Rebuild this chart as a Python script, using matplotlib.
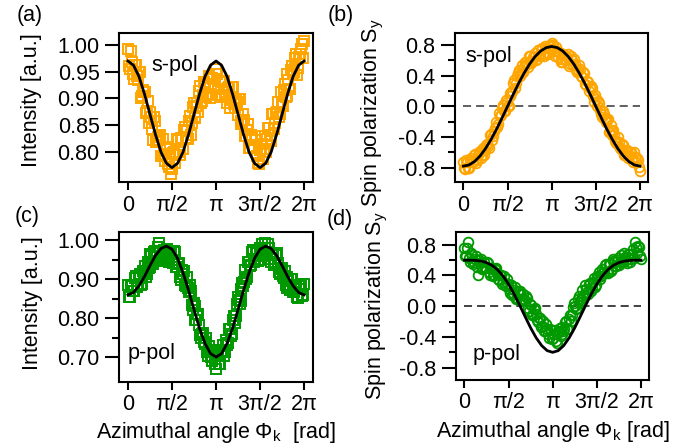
import numpy as np
import matplotlib
matplotlib.use("Agg")
import matplotlib.pyplot as plt

plt.rcParams['font.family'] = ['Liberation Sans', 'DejaVu Sans']
plt.rcParams['mathtext.fontset'] = 'custom'
plt.rcParams['mathtext.rm'] = 'Liberation Sans'
plt.rcParams['mathtext.it'] = 'Liberation Sans:italic'
plt.rcParams['mathtext.bf'] = 'Liberation Sans:bold'
plt.rcParams['lines.scale_dashes'] = False

# measured azimuthal angles (deg), sweep 1 and sweep 2
angles = [0, 4, 8, 12, 16, 20, 24, 28, 32, 36, 40, 44, 48, 52, 56, 60, 64, 68, 72, 76,
          80, 84, 88, 92, 96, 100, 104, 108, 112, 116, 120, 124, 128, 132, 136, 140, 144,
          148, 152, 156, 160, 164, 168, 172, 176, 180, 184, 188, 192, 196, 200, 204, 208,
          212, 216, 220, 224, 228, 232, 236, 240, 244, 248, 252, 256, 260, 264, 268, 272,
          276, 280, 284, 288, 292, 296, 300, 304, 308, 312, 316, 320, 324, 328, 332, 336,
          340, 344, 348, 352, 356, 360]
angles2 = [2, 6, 10, 14, 18, 22, 26, 30, 34, 38, 42, 46, 50, 54, 58, 62, 66, 70, 74, 78,
           82, 86, 90, 94, 98, 102, 106, 110, 114, 118, 122, 126, 130, 134, 138, 142, 146,
           150, 154, 158, 162, 166, 170, 174, 178, 182, 186, 190, 194, 198, 202, 206, 210,
           214, 218, 222, 226, 230, 234, 238, 242, 246, 250, 254, 258, 262, 266, 270, 274,
           278, 282, 286, 290, 294, 298, 302, 306, 310, 314, 318, 322, 326, 330, 334, 338,
           342, 346, 350, 354, 358]

# (a) intensity, s-pol
int_s = [0.993, 0.955, 0.969, 0.936, 0.962, 0.934, 0.949, 0.904, 0.911, 0.873, 0.895,
         0.864, 0.865, 0.821, 0.857, 0.820, 0.821, 0.792, 0.823, 0.783, 0.808, 0.771,
         0.758, 0.798, 0.779, 0.823, 0.799, 0.825, 0.804, 0.847, 0.838, 0.858, 0.832,
         0.883, 0.865, 0.885, 0.875, 0.923, 0.895, 0.930, 0.902, 0.924, 0.901, 0.938,
         0.922, 0.955, 0.917, 0.933, 0.903, 0.933, 0.912, 0.920, 0.882, 0.921, 0.890,
         0.896, 0.869, 0.898, 0.852, 0.871, 0.830, 0.840, 0.806, 0.832, 0.808, 0.829,
         0.791, 0.777, 0.805, 0.786, 0.830, 0.823, 0.844, 0.819, 0.871, 0.854, 0.875,
         0.864, 0.911, 0.886, 0.927, 0.905, 0.934, 0.918, 0.960, 0.949, 0.983, 0.957,
         0.983, 1.002, 1.008]
int_s2 = [0.961, 0.988, 0.945, 0.963, 0.941, 0.950, 0.901, 0.915, 0.911, 0.876, 0.853,
          0.875, 0.843, 0.864, 0.818, 0.828, 0.831, 0.791, 0.795, 0.804, 0.776, 0.805,
          0.768, 0.799, 0.794, 0.822, 0.793, 0.826, 0.841, 0.826, 0.824, 0.866, 0.853,
          0.891, 0.863, 0.892, 0.914, 0.891, 0.907, 0.926, 0.907, 0.942, 0.908, 0.936,
          0.925, 0.945, 0.906, 0.930, 0.933, 0.906, 0.892, 0.922, 0.897, 0.922, 0.881,
          0.894, 0.898, 0.857, 0.856, 0.860, 0.829, 0.852, 0.807, 0.826, 0.807, 0.821,
          0.779, 0.803, 0.814, 0.800, 0.800, 0.844, 0.832, 0.870, 0.842, 0.872, 0.894,
          0.871, 0.890, 0.915, 0.903, 0.945, 0.918, 0.953, 0.948, 0.975, 0.944, 0.978,
          0.992, 0.976]

# (b) spin polarization, s-pol
spin_s = [-0.72, -0.82, -0.73, -0.81, -0.68, -0.72, -0.62, -0.70, -0.61, -0.67, -0.54,
          -0.57, -0.49, -0.54, -0.36, -0.39, -0.28, -0.27, -0.09, -0.11, 0.02, -0.06,
          0.05, 0.00, 0.18, 0.20, 0.34, 0.30, 0.43, 0.39, 0.54, 0.51, 0.58, 0.51, 0.66,
          0.59, 0.64, 0.60, 0.74, 0.65, 0.76, 0.66, 0.76, 0.68, 0.80, 0.83, 0.72, 0.77,
          0.64, 0.69, 0.58, 0.68, 0.61, 0.64, 0.53, 0.66, 0.54, 0.55, 0.45, 0.54, 0.40,
          0.45, 0.29, 0.33, 0.20, 0.26, 0.13, 0.15, 0.00, 0.04, -0.10, -0.06, -0.17,
          -0.18, -0.33, -0.25, -0.38, -0.38, -0.48, -0.40, -0.54, -0.49, -0.63, -0.57,
          -0.68, -0.59, -0.67, -0.60, -0.73, -0.70, -0.84]
spin_s2 = [-0.80, -0.70, -0.80, -0.70, -0.72, -0.64, -0.74, -0.63, -0.58, -0.63, -0.64,
           -0.50, -0.52, -0.38, -0.44, -0.32, -0.20, -0.23, -0.13, -0.02, -0.06, 0.08,
           0.00, 0.14, 0.17, 0.30, 0.24, 0.39, 0.47, 0.44, 0.45, 0.58, 0.55, 0.66, 0.56,
           0.64, 0.70, 0.62, 0.67, 0.73, 0.68, 0.79, 0.70, 0.79, 0.75, 0.80, 0.66, 0.72,
           0.71, 0.62, 0.58, 0.67, 0.60, 0.68, 0.55, 0.60, 0.62, 0.48, 0.48, 0.49, 0.38,
           0.44, 0.28, 0.32, 0.24, 0.24, 0.05, 0.09, 0.07, -0.05, -0.14, -0.10, -0.21,
           -0.17, -0.34, -0.32, -0.31, -0.45, -0.46, -0.46, -0.56, -0.50, -0.63, -0.57,
           -0.63, -0.59, -0.73, -0.66, -0.67, -0.79]

# (c) intensity, p-pol
int_p = [0.885, 0.854, 0.882, 0.870, 0.908, 0.886, 0.913, 0.887, 0.918, 0.906, 0.945,
         0.932, 0.961, 0.939, 0.973, 0.958, 0.992, 0.952, 0.967, 0.955, 0.978, 0.944,
         0.966, 0.943, 0.970, 0.931, 0.941, 0.899, 0.914, 0.886, 0.905, 0.868, 0.870,
         0.821, 0.831, 0.795, 0.810, 0.756, 0.760, 0.738, 0.748, 0.704, 0.718, 0.691,
         0.717, 0.670, 0.709, 0.682, 0.714, 0.704, 0.745, 0.737, 0.773, 0.759, 0.805,
         0.805, 0.855, 0.836, 0.874, 0.883, 0.923, 0.907, 0.944, 0.936, 0.975, 0.951,
         0.976, 0.949, 0.978, 0.961, 0.992, 0.967, 0.981, 0.944, 0.966, 0.943, 0.967,
         0.919, 0.927, 0.908, 0.920, 0.878, 0.895, 0.872, 0.900, 0.868, 0.886, 0.852,
         0.876, 0.857, 0.887]
int_p2 = [0.855, 0.886, 0.871, 0.904, 0.879, 0.904, 0.885, 0.920, 0.933, 0.913, 0.929,
          0.964, 0.938, 0.969, 0.948, 0.982, 0.972, 0.950, 0.974, 0.957, 0.947, 0.973,
          0.950, 0.972, 0.932, 0.940, 0.905, 0.924, 0.921, 0.883, 0.877, 0.886, 0.834,
          0.839, 0.795, 0.810, 0.783, 0.748, 0.762, 0.733, 0.712, 0.729, 0.700, 0.719,
          0.683, 0.702, 0.681, 0.716, 0.730, 0.712, 0.731, 0.772, 0.754, 0.795, 0.787,
          0.837, 0.846, 0.845, 0.891, 0.893, 0.901, 0.944, 0.935, 0.971, 0.945, 0.968,
          0.948, 0.981, 0.991, 0.964, 0.970, 0.991, 0.951, 0.968, 0.937, 0.962, 0.943,
          0.913, 0.930, 0.904, 0.885, 0.905, 0.879, 0.901, 0.866, 0.881, 0.854, 0.882,
          0.888, 0.860]

# (d) spin polarization, p-pol
spin_p = [0.76, 0.66, 0.83, 0.58, 0.67, 0.57, 0.65, 0.40, 0.56, 0.48, 0.57, 0.50, 0.56,
          0.40, 0.49, 0.41, 0.50, 0.36, 0.40, 0.29, 0.39, 0.26, 0.29, 0.17, 0.27, 0.17,
          0.25, 0.11, 0.16, 0.07, 0.16, 0.07, 0.11, -0.06, 0.01, -0.10, -0.02, -0.18,
          -0.15, -0.27, -0.19, -0.32, -0.29, -0.41, -0.31, -0.41, -0.31, -0.48, -0.34,
          -0.39, -0.27, -0.30, -0.19, -0.30, -0.12, -0.12, 0.04, -0.03, 0.09, 0.05, 0.21,
          0.14, 0.23, 0.16, 0.30, 0.24, 0.37, 0.28, 0.38, 0.35, 0.48, 0.45, 0.55, 0.43,
          0.55, 0.49, 0.62, 0.52, 0.60, 0.54, 0.67, 0.58, 0.64, 0.56, 0.68, 0.61, 0.74,
          0.83, 0.69, 0.77, 0.62]
spin_p2 = [0.65, 0.76, 0.63, 0.69, 0.55, 0.61, 0.51, 0.60, 0.61, 0.50, 0.51, 0.57, 0.44,
           0.50, 0.39, 0.49, 0.43, 0.34, 0.41, 0.31, 0.27, 0.36, 0.23, 0.28, 0.15, 0.21,
           0.10, 0.20, 0.20, 0.09, 0.09, 0.13, -0.02, 0.03, -0.11, -0.03, -0.10, -0.21,
           -0.15, -0.26, -0.32, -0.23, -0.36, -0.30, -0.43, -0.36, -0.45, -0.32, -0.28,
           -0.36, -0.32, -0.21, -0.29, -0.16, -0.19, -0.01, 0.00, -0.02, 0.13, 0.10, 0.12,
           0.27, 0.19, 0.29, 0.20, 0.31, 0.25, 0.39, 0.45, 0.39, 0.44, 0.54, 0.45, 0.55,
           0.46, 0.59, 0.57, 0.52, 0.63, 0.58, 0.57, 0.69, 0.60, 0.68, 0.58, 0.68, 0.63,
           0.77, 0.78, 0.65]

# fitted curves
fit_angles = [0, 11.25, 22.5, 33.75, 45, 56.25, 67.5, 78.75, 90, 101.25, 112.5, 123.75,
              135, 146.25, 157.5, 168.75, 180, 191.25, 202.5, 213.75, 225, 236.25, 247.5,
              258.75, 270, 281.25, 292.5, 303.75, 315, 326.25, 337.5, 348.75, 360]
fit_int_s = [0.970, 0.962, 0.941, 0.908, 0.870, 0.832, 0.799, 0.778, 0.770, 0.778, 0.799,
             0.832, 0.870, 0.908, 0.941, 0.962, 0.970, 0.962, 0.941, 0.908, 0.870, 0.832,
             0.799, 0.778, 0.770, 0.778, 0.799, 0.832, 0.870, 0.908, 0.941, 0.962, 0.970]
fit_spin_s = [-0.780, -0.765, -0.721, -0.649, -0.552, -0.433, -0.299, -0.152, 0.000,
              0.152, 0.299, 0.433, 0.552, 0.649, 0.721, 0.765, 0.780, 0.765, 0.721, 0.649,
              0.552, 0.433, 0.299, 0.152, 0.000, -0.152, -0.299, -0.433, -0.552, -0.649,
              -0.721, -0.765, -0.780]
fit_int_p = [0.860, 0.866, 0.883, 0.907, 0.935, 0.961, 0.979, 0.985, 0.977, 0.954, 0.917,
             0.872, 0.822, 0.774, 0.735, 0.709, 0.700, 0.709, 0.735, 0.774, 0.822, 0.872,
             0.917, 0.954, 0.977, 0.985, 0.979, 0.961, 0.935, 0.907, 0.883, 0.866, 0.860]
fit_spin_p = [0.600, 0.599, 0.596, 0.587, 0.568, 0.532, 0.474, 0.393, 0.287, 0.159, 0.015,
              -0.135, -0.281, -0.410, -0.512, -0.578, -0.600, -0.578, -0.512, -0.410,
              -0.281, -0.135, 0.015, 0.159, 0.287, 0.393, 0.474, 0.532, 0.568, 0.587,
              0.596, 0.599, 0.600]

x_ticks_lab = ['0', 'π/2', 'π', '3π/2', '2π']
int_s_ticks = [0.80, 0.85, 0.90, 0.95, 1.00]
int_p_ticks = [0.70, 0.80, 0.90, 1.00]
int_p_minor = [0.75, 0.85, 0.95]
spin_ticks = [-0.8, -0.4, 0.0, 0.4, 0.8]
spin_minor = [-0.6, -0.2, 0.2, 0.6]

ORANGE = '#FFA500'
GREEN = '#009900'
FS = 15.5

W, H = 689, 446
fig = plt.figure(figsize=(W / 100, H / 100), dpi=100)


def make_axes(l, t, r, b):
    return fig.add_axes([l / W, 1 - b / H, (r - l) / W, (b - t) / H])


def style(ax, xlim, ylim, yticks, yfmt, yminor=None):
    ax.set_xlim(*xlim)
    ax.set_ylim(*ylim)
    ax.set_xticks(np.deg2rad([0, 90, 180, 270, 360]), labels=x_ticks_lab)
    ax.set_yticks(yticks, labels=[yfmt.format(v) for v in yticks])
    if yminor:
        ax.set_yticks(yminor, minor=True)
    for sp in ax.spines.values():
        sp.set_linewidth(1.5)
    ax.tick_params(axis='y', which='major', direction='out', length=10, width=1.5,
                   pad=4, labelsize=FS)
    ax.tick_params(axis='y', which='minor', direction='out', length=5, width=1.5)
    ax.tick_params(axis='x', which='major', direction='out', length=6, width=1.5,
                   pad=3, labelsize=FS)


def scatter(ax, y1, y2, marker, color):
    kw = dict(ls='none', marker=marker, mfc='none', mec=color)
    if marker == 's':
        kw.update(ms=6.8, mew=1.4)
    else:
        kw.update(ms=7.0, mew=1.3)
    ax.plot(np.deg2rad(angles), y1, **kw)
    ax.plot(np.deg2rad(angles2), y2, **kw)


frad = np.deg2rad(fit_angles)

# (a)
ax_a = make_axes(119, 33, 313, 182)
scatter(ax_a, int_s, int_s2, 's', ORANGE)
ax_a.plot(frad, fit_int_s, color='black', lw=2)
style(ax_a, (-0.32, 6.60), (0.743, 1.0225), int_s_ticks, '{:.2f}')
ax_a.text(0.168, 0.748, 's-pol', transform=ax_a.transAxes, fontsize=FS, va='baseline')
ax_a.set_ylabel('Intensity [a.u.]', fontsize=FS)
ax_a.yaxis.set_label_coords(-0.397, 0.55)

# (b)
ax_b = make_axes(455, 33, 648, 182)
ax_b.plot([0, 2 * np.pi], [0, 0], color='#444444', lw=1.2, dashes=(5.8, 3.6))
scatter(ax_b, spin_s, spin_s2, 'o', ORANGE)
ax_b.plot(frad, fit_spin_s, color='black', lw=2)
style(ax_b, (-0.30, 6.57), (-0.987, 0.956), spin_ticks, '{:.1f}', spin_minor)
ax_b.text(0.052, 0.805, 's-pol', transform=ax_b.transAxes, fontsize=FS, va='baseline')
ax_b.set_ylabel(r'Spin polarization S$_\mathrm{y}$', fontsize=FS)
ax_b.yaxis.set_label_coords(-0.358, 0.466)

# (c)
ax_c = make_axes(119, 232, 313, 382)
scatter(ax_c, int_p, int_p2, 's', GREEN)
ax_c.plot(frad, fit_int_p, color='black', lw=2)
style(ax_c, (-0.32, 6.60), (0.636, 1.0214), int_p_ticks, '{:.2f}', int_p_minor)
ax_c.text(0.046, 0.153, 'p-pol', transform=ax_c.transAxes, fontsize=FS, va='baseline')
ax_c.set_ylabel('Intensity [a.u.]', fontsize=FS)
ax_c.yaxis.set_label_coords(-0.392, 0.528)
ax_c.set_xlabel(r'Azimuthal angle Φ$_\mathrm{k}$  [rad]', fontsize=FS, labelpad=3)

# (d)
ax_d = make_axes(456, 232, 649, 380)
ax_d.plot([0, 2 * np.pi], [0, 0], color='#222222', lw=1.2, dashes=(5.8, 3.6))
scatter(ax_d, spin_p, spin_p2, 'o', GREEN)
ax_d.plot(frad, fit_spin_p, color='black', lw=2)
style(ax_d, (-0.30, 6.57), (-0.96, 0.966), spin_ticks, '{:.1f}', spin_minor)
ax_d.text(0.088, 0.132, 'p-pol', transform=ax_d.transAxes, fontsize=FS, va='baseline')
ax_d.set_ylabel(r'Spin polarization S$_\mathrm{y}$', fontsize=FS)
ax_d.yaxis.set_label_coords(-0.342, 0.5)
ax_d.set_xlabel(r'Azimuthal angle Φ$_\mathrm{k}$ [rad]', fontsize=FS, labelpad=4)

# panel letters
for lab, x, y in [('(a)', 30, 16), ('(b)', 341, 16), ('(c)', 27, 217), ('(d)', 340, 220)]:
    fig.text(x / W, 1 - y / H, lab, fontsize=FS, ha='center', va='center')

fig.savefig('out.png', dpi=100)
